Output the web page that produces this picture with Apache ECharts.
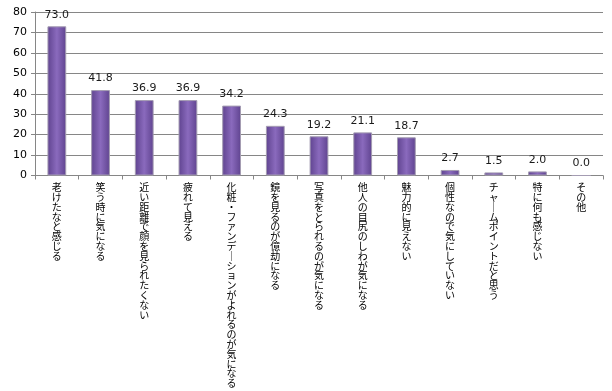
<!DOCTYPE html>
<html><head><meta charset="utf-8">
<script src="https://cdn.jsdelivr.net/npm/echarts@6/dist/echarts.min.js"></script>
<style>html,body{margin:0;padding:0;background:#fff}#c{width:612px;height:391px}</style>
</head><body><div id="c"></div>
<script>
const categories = ['老けたなと感じる','笑う時に気になる','近い距離で顔を見られたくない','疲れて見える','化粧・ファンデーションがよれるのが気になる','鏡を見るのが億劫になる','写真をとられるのが気になる','他人の目尻のしわが気になる','魅力的に見えない','個性なので気にしていない','チャームポイントだと思う','特に何も感じない','その他'];
const values = [73.0, 41.8, 36.9, 36.9, 34.2, 24.3, 19.2, 21.1, 18.7, 2.7, 1.5, 2.0, 0.0];
const yTicks = [0,10,20,30,40,50,60,70,80];

const chart = echarts.init(document.getElementById('c'), null, {renderer:'canvas'});
chart.setOption({
  animation:false,
  grid:{left:35,right:9,top:12,bottom:215.5,containLabel:false},
  xAxis:{
    type:'category', data:categories, boundaryGap:true,
    axisLine:{lineStyle:{color:'#868686'}},
    axisTick:{show:true,length:4,lineStyle:{color:'#868686'}},
    axisLabel:{
      interval:0, margin:7, color:'#000', fontSize:10, lineHeight:9.8,
      fontFamily:'"Noto Sans CJK JP"', verticalAlign:'top', align:'center',
      formatter:v=>v.replace(/ー/g,'｜').split('').join('\n')
    }
  },
  yAxis:{
    type:'value', min:yTicks[0], max:yTicks[yTicks.length-1], interval:10,
    axisLine:{show:true,lineStyle:{color:'#868686'}},
    axisTick:{show:true,length:4,lineStyle:{color:'#868686'}},
    splitLine:{lineStyle:{color:'#868686'}},
    axisLabel:{color:'#000',fontSize:11,fontFamily:'"DejaVu Sans"',margin:8}
  },
  series:[{
    type:'bar', data:values, barWidth:'43%',
    itemStyle:{
      color:new echarts.graphic.LinearGradient(0,0,1,0,[
        {offset:0,color:'#5f438f'},{offset:0.5,color:'#8a6abd'},{offset:1,color:'#5f438f'}
      ]),
      borderColor:'#a49cb2', borderWidth:1
    },
    label:{show:true,position:'top',distance:6,color:'#1a1a1a',fontSize:11,fontFamily:'"DejaVu Sans"',
      formatter:p=>p.value.toFixed(1)}
  }]
});
</script></body></html>
